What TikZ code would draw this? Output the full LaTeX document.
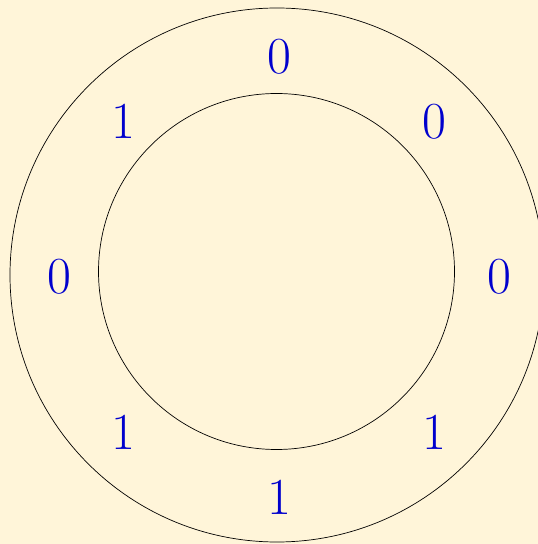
\documentclass[tikz,border=0pt]{standalone}
\usepackage{xcolor}
\usepackage{tikz}
\usetikzlibrary{calc}
\definecolor{ringbg}{RGB}{255,245,217}
\definecolor{ringblue}{RGB}{0,0,205}

\begin{document}
\begin{tikzpicture}[x=1pt,y=1pt,
    bit/.style={text=ringblue, font=\fontsize{52}{52}\selectfont, inner sep=0pt}]
    % page and background
    \fill[ringbg] (0,0) rectangle (538,544);
    \useasboundingbox (0,0) rectangle (538,544);

    % the two rings
    \coordinate (centre) at (277,269);
    \coordinate (bitcentre) at (279,267);
    \draw[line width=0.7pt] (centre) circle[radius=267];
    \draw[line width=0.7pt] (276.5,272.5) circle[radius=178];

    % the bits round the ring
    \foreach \ang/\bitval [count=\k] in {90/0, 45/0, 0/0, -45/1, -90/1, -135/1, 180/0, 135/1}
        \node[bit] (bit\k) at ($(bitcentre)+(\ang:220)$) {\bitval};
\end{tikzpicture}
\end{document}
